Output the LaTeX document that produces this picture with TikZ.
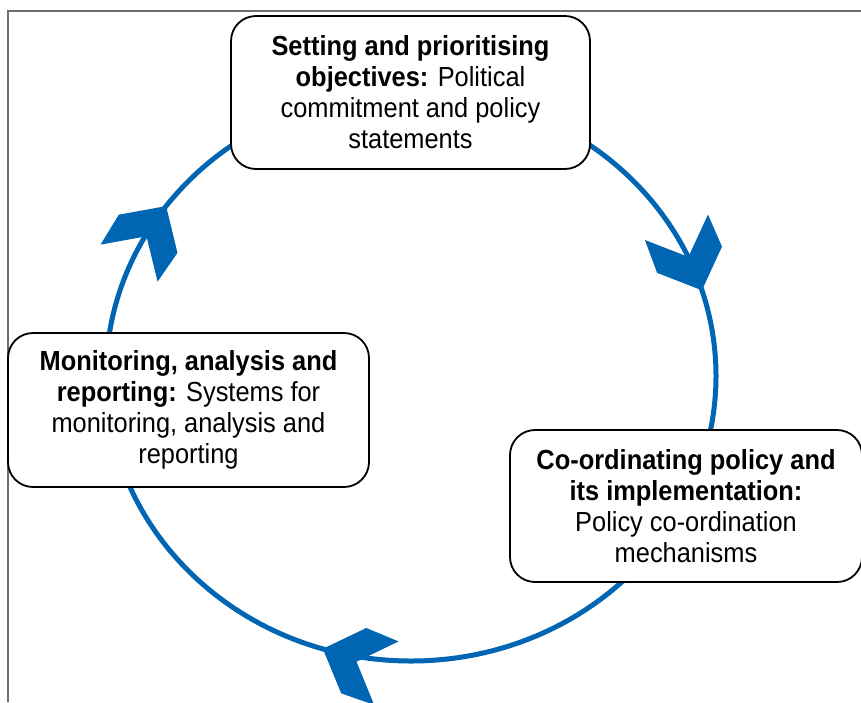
\documentclass[tikz,border=0pt]{standalone}
\usepackage{fontspec}
\setmainfont{Liberation Sans}[FakeStretch=0.92]
\definecolor{cycleblue}{RGB}{0,102,179}
\definecolor{framegray}{RGB}{110,110,110}
\begin{document}
\begin{tikzpicture}[x=1pt,y=1pt,
  box/.style={draw=black, line width=1.8pt, fill=white, rounded corners=25pt, align=center, font=\fontsize{27.6}{31}\selectfont, inner sep=0pt},
  chev/.style={fill=cycleblue, draw=none},
  cycleline/.style={draw=cycleblue, line width=5pt}]
\useasboundingbox (0,0) rectangle (861,-702);
\draw[framegray, line width=2pt] (8,-702) -- (8,-11) -- (861,-11);
\draw[cycleline] (411,-376) ellipse [x radius=305, y radius=285];
\foreach \px/\py/\ang in {701.9/-290.3/-68, 166.1/-206.1/57, 322.9/-648.8/159}
  \fill[chev, shift={(\px,\py)}, rotate=\ang] (0,0) -- (-33,35) -- (-68,34) -- (-36,0) -- (-68,-34) -- (-33,-35) -- cycle;
\node[box, minimum width=359pt, minimum height=153pt] (top) at (410.5,-92.5)
  {\textbf{Setting and prioritising}\\\textbf{objectives:} Political\\commitment and policy\\statements};
\node[box, minimum width=361pt, minimum height=154pt] (left) at (188.5,-410)
  {\textbf{Monitoring, analysis and}\\\textbf{reporting:} Systems for\\monitoring, analysis and\\reporting};
\node[box, minimum width=352pt, minimum height=152pt] (right) at (686,-506)
  {\textbf{Co-ordinating policy and}\\\textbf{its implementation:}\\Policy co-ordination\\mechanisms};
\end{tikzpicture}
\end{document}
